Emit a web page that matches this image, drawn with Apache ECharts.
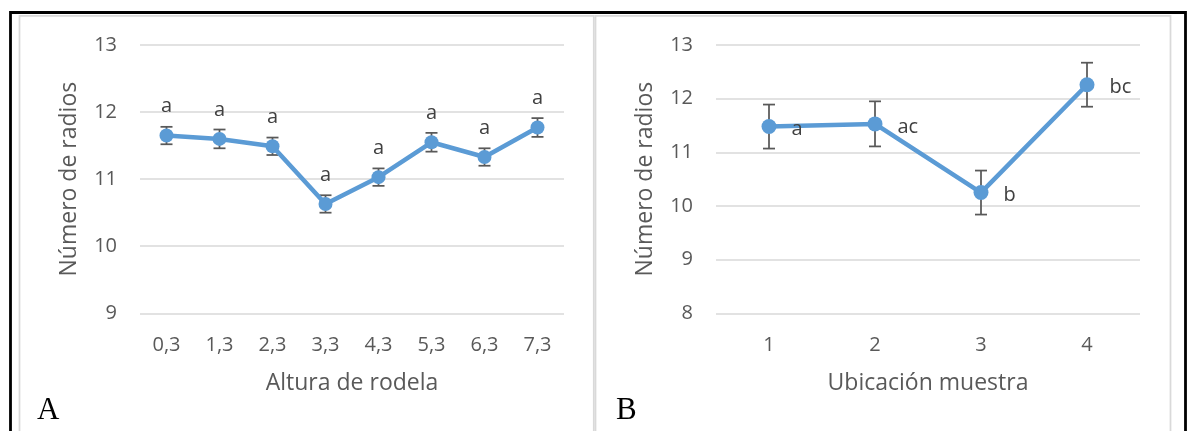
<!DOCTYPE html>
<html>
<head>
<meta charset="utf-8">
<script src="https://cdn.jsdelivr.net/npm/echarts@6/dist/echarts.min.js"></script>
<style>html,body{margin:0;padding:0;background:#fff}#c{width:1187px;height:431px}</style>
</head>
<body>
<div id="c"></div>
<script>
// ---- data ----
const catsA = ['0,3','1,3','2,3','3,3','4,3','5,3','6,3','7,3'];
const meansA = [11.65, 11.60, 11.49, 10.63, 11.03, 11.55, 11.33, 11.77];
const errA = [0.13, 0.14, 0.13, 0.13, 0.13, 0.14, 0.13, 0.14];
const lettersA = ['a','a','a','a','a','a','a','a'];

const catsB = ['1','2','3','4'];
const meansB = [11.48, 11.53, 10.25, 12.26];
const errB = [0.41, 0.42, 0.41, 0.41];
const lettersB = ['a','ac','b','bc'];

const yTicksA = {min: 9, max: 13, interval: 1};
const yTicksB = {min: 8, max: 13, interval: 1};

// ---- styling ----
const FONT = "'Open Sans', sans-serif";
const TICK = '#595959';
const GRIDC = '#d9d9d9';
const BLUE = '#5B9BD5';

function errItem(params, api) {
  const i = api.value(0);
  const lo = api.coord([i, api.value(1)]);
  const hi = api.coord([i, api.value(2)]);
  const w = 6;
  const st = {stroke: '#595959', lineWidth: 1.75};
  return {type: 'group', children: [
    {type: 'line', shape: {x1: lo[0], y1: lo[1], x2: hi[0], y2: hi[1]}, style: st},
    {type: 'line', shape: {x1: lo[0] - w, y1: lo[1], x2: lo[0] + w, y2: lo[1]}, style: st},
    {type: 'line', shape: {x1: hi[0] - w, y1: hi[1], x2: hi[0] + w, y2: hi[1]}, style: st}
  ]};
}

function xAx(idx, data, name) {
  return {
    type: 'category', gridIndex: idx, data: data, boundaryGap: true,
    axisLine: {show: false}, axisTick: {show: false},
    axisLabel: {fontSize: 20, color: TICK, margin: 22, fontFamily: FONT},
    name: name, nameLocation: 'middle', nameGap: 59,
    nameTextStyle: {fontSize: 23, color: TICK, fontFamily: FONT}
  };
}
function yAx(idx, t, name) {
  return {
    type: 'value', gridIndex: idx, min: t.min, max: t.max, interval: t.interval,
    axisLine: {show: false}, axisTick: {show: false},
    axisLabel: {fontSize: 20, color: TICK, margin: 23, fontFamily: FONT},
    splitLine: {show: true, lineStyle: {color: GRIDC, width: 1.5}},
    name: name, nameLocation: 'middle', nameGap: 59, nameRotate: 90,
    nameTextStyle: {fontSize: 23, color: TICK, fontFamily: FONT}
  };
}

const chart = echarts.init(document.getElementById('c'), null, {renderer: 'canvas'});
chart.setOption({
  backgroundColor: '#ffffff',
  animation: false,
  graphic: [
    {type: 'rect', z: -10, silent: true, shape: {x: 19.5, y: 15.8, width: 574.3, height: 500}, style: {fill: 'none', stroke: GRIDC, lineWidth: 1.75}},
    {type: 'rect', z: -10, silent: true, shape: {x: 595.5, y: 15.8, width: 575, height: 500}, style: {fill: 'none', stroke: GRIDC, lineWidth: 1.75}},
    {type: 'polyline', z: 100, silent: true, shape: {points: [[10.5, 440], [10.5, 12.5], [1185.5, 12.5], [1185.5, 440]]}, style: {fill: 'none', stroke: '#000', lineWidth: 2.8}},
    {type: 'text', z: 100, silent: true, x: 37, y: 411, style: {text: 'A', font: '31px "Liberation Serif"', fill: '#000', verticalAlign: 'middle'}},
    {type: 'text', z: 100, silent: true, x: 616, y: 411, style: {text: 'B', font: '31px "Liberation Serif"', fill: '#000', verticalAlign: 'middle'}}
  ],
  grid: [
    {left: 140, top: 45, width: 424, height: 268.3},
    {left: 716, top: 45, width: 424, height: 268.3}
  ],
  xAxis: [xAx(0, catsA, 'Altura de rodela'), xAx(1, catsB, 'Ubicación muestra')],
  yAxis: [yAx(0, yTicksA, 'Número de radios'), yAx(1, yTicksB, 'Número de radios')],
  series: [
    {type: 'custom', xAxisIndex: 0, yAxisIndex: 0, z: 1, renderItem: errItem,
      encode: {x: 0, y: [1, 2]},
      data: meansA.map((m, i) => [i, m - errA[i], m + errA[i]])},
    {type: 'line', xAxisIndex: 0, yAxisIndex: 0, z: 3, data: meansA,
      symbol: 'circle', symbolSize: 14,
      lineStyle: {color: BLUE, width: 4.5}, itemStyle: {color: BLUE},
      label: {show: true, position: 'top', distance: 12, fontSize: 20, color: '#404040', fontFamily: FONT,
        formatter: p => lettersA[p.dataIndex]}},
    {type: 'custom', xAxisIndex: 1, yAxisIndex: 1, z: 1, renderItem: errItem,
      encode: {x: 0, y: [1, 2]},
      data: meansB.map((m, i) => [i, m - errB[i], m + errB[i]])},
    {type: 'line', xAxisIndex: 1, yAxisIndex: 1, z: 3, data: meansB,
      symbol: 'circle', symbolSize: 15,
      lineStyle: {color: BLUE, width: 4.5}, itemStyle: {color: BLUE},
      label: {show: true, position: 'right', distance: 15, offset: [0, 3], fontSize: 20, color: '#404040', fontFamily: FONT,
        formatter: p => lettersB[p.dataIndex]}}
  ]
});
</script>
</body>
</html>
